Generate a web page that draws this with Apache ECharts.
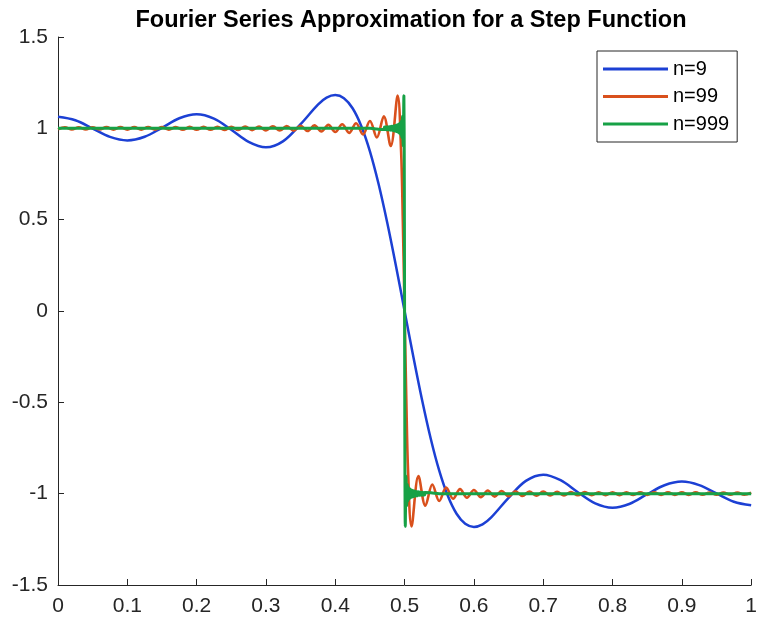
<!DOCTYPE html>
<html>
<head>
<meta charset="utf-8">
<script src="https://cdn.jsdelivr.net/npm/echarts@6/dist/echarts.min.js"></script>
<style>
  html, body { margin: 0; padding: 0; background: #fff; }
  #chart { width: 760px; height: 621px; }
</style>
</head>
<body>
<div id="chart"></div>
<script>
// ---- Data ----
const titleText = 'Fourier Series Approximation for a Step Function';
const seriesNames = ['n=9', 'n=99', 'n=999'];

const xTicks = [0, 0.1, 0.2, 0.3, 0.4, 0.5, 0.6, 0.7, 0.8, 0.9, 1];
const yTicks = [-1.5, -1, -0.5, 0, 0.5, 1, 1.5];

// n = 9
const n9X = [0, 0.025, 0.05, 0.075, 0.1, 0.125, 0.15, 0.175, 0.2, 0.225, 0.25, 0.275, 0.3, 0.325, 0.35, 0.375, 0.3875, 0.4, 0.4125, 0.425, 0.4375, 0.45, 0.4625, 0.475, 0.4875,
  0.5,
  0.5125, 0.525, 0.5375, 0.55, 0.5625, 0.575, 0.5875, 0.6, 0.6125, 0.625, 0.65, 0.675, 0.7, 0.725, 0.75, 0.775, 0.8, 0.825, 0.85, 0.875, 0.9, 0.925, 0.95, 0.975, 1];
const n9Y = [1.063, 1.044, 0.999, 0.953, 0.934, 0.954, 1.003, 1.055, 1.077, 1.053, 0.992, 0.926, 0.896, 0.930, 1.023, 1.130, 1.168, 1.182, 1.165, 1.110, 1.013, 0.874, 0.695, 0.483, 0.248,
  0,
  -0.248, -0.483, -0.695, -0.874, -1.013, -1.110, -1.165, -1.182, -1.168, -1.130, -1.023, -0.930, -0.896, -0.926, -0.992, -1.053, -1.077, -1.055, -1.003, -0.954, -0.934, -0.953, -0.999, -1.044, -1.063];

// n = 99
const n99X = [0, 0.01, 0.02, 0.03, 0.04, 0.05, 0.06, 0.07, 0.08, 0.09, 0.1, 0.11, 0.12, 0.13, 0.14, 0.15, 0.16, 0.17, 0.18, 0.19, 0.2, 0.21, 0.22, 0.23, 0.24, 0.25, 0.26, 0.27, 0.28, 0.29, 0.3, 0.31, 0.32, 0.33, 0.34, 0.35, 0.36, 0.37, 0.38, 0.39, 0.4, 0.41, 0.42, 0.43, 0.44, 0.45, 0.46, 0.47, 0.48, 0.49, 0.495, 0.4975,
  0.5,
  0.5025, 0.505, 0.51, 0.52, 0.53, 0.54, 0.55, 0.56, 0.57, 0.58, 0.59, 0.6, 0.61, 0.62, 0.63, 0.64, 0.65, 0.66, 0.67, 0.68, 0.69, 0.7, 0.71, 0.72, 0.73, 0.74, 0.75, 0.76, 0.77, 0.78, 0.79, 0.8, 0.81, 0.82, 0.83, 0.84, 0.85, 0.86, 0.87, 0.88, 0.89, 0.9, 0.91, 0.92, 0.93, 0.94, 0.95, 0.96, 0.97, 0.98, 0.99, 1];
const n99Y = [0.994, 1.006, 0.994, 1.006, 0.994, 1.006, 0.994, 1.007, 0.993, 1.007, 0.993, 1.007, 0.993, 1.007, 0.993, 1.007, 0.993, 1.007, 0.992, 1.008, 0.992, 1.008, 0.992, 1.008, 0.991, 1.009, 0.991, 1.010, 0.990, 1.010, 0.989, 1.011, 0.988, 1.013, 0.987, 1.014, 0.985, 1.016, 0.983, 1.019, 0.980, 1.022, 0.975, 1.028, 0.966, 1.040, 0.950, 1.066, 0.903, 1.179, 0.873, 0.486,
  0,
  -0.486, -0.873, -1.179, -0.903, -1.066, -0.950, -1.040, -0.966, -1.028, -0.975, -1.022, -0.980, -1.019, -0.983, -1.016, -0.985, -1.014, -0.987, -1.013, -0.988, -1.011, -0.989, -1.010, -0.990, -1.010, -0.991, -1.009, -0.991, -1.008, -0.992, -1.008, -0.992, -1.008, -0.992, -1.007, -0.993, -1.007, -0.993, -1.007, -0.993, -1.007, -0.993, -1.007, -0.993, -1.006, -0.994, -1.006, -0.994, -1.006, -0.994, -1.006, -0.994];

// n = 999
const n999X = [0, 0.1, 0.2, 0.3, 0.4, 0.45, 0.46, 0.47, 0.471, 0.472, 0.473, 0.474, 0.475, 0.476, 0.477, 0.478, 0.479, 0.48, 0.481, 0.482, 0.483, 0.484, 0.485, 0.486, 0.487, 0.488, 0.489, 0.49, 0.491, 0.492, 0.493, 0.494, 0.495, 0.496, 0.497, 0.498, 0.499, 0.4995, 0.49975,
  0.5,
  0.50025, 0.5005, 0.501, 0.502, 0.503, 0.504, 0.505, 0.506, 0.507, 0.508, 0.509, 0.51, 0.511, 0.512, 0.513, 0.514, 0.515, 0.516, 0.517, 0.518, 0.519, 0.52, 0.521, 0.522, 0.523, 0.524, 0.525, 0.526, 0.527, 0.528, 0.529, 0.53, 0.54, 0.55, 0.6, 0.7, 0.8, 0.9, 1];
const n999Y = [1.000, 1.000, 1.000, 1.000, 1.000, 1.000, 0.996, 0.993, 1.007, 0.993, 1.008, 0.992, 1.008, 0.992, 1.009, 0.991, 1.010, 0.990, 1.011, 0.989, 1.012, 0.987, 1.014, 0.986, 1.016, 0.983, 1.018, 0.980, 1.022, 0.975, 1.028, 0.966, 1.040, 0.950, 1.066, 0.903, 1.179, 0.873, 0.486,
  0,
  -0.486, -0.873, -1.179, -0.903, -1.066, -0.950, -1.040, -0.966, -1.028, -0.975, -1.022, -0.980, -1.018, -0.983, -1.016, -0.986, -1.014, -0.987, -1.012, -0.989, -1.011, -0.990, -1.010, -0.991, -1.009, -0.992, -1.008, -0.992, -1.008, -0.993, -1.007, -0.993, -0.996, -1.000, -1.000, -1.000, -1.000, -1.000, -1.000];

const colors = ['#1c40d4', '#d9501c', '#17a146'];
const widths = [2.5, 2.6, 3];

// ---- Chart ----
const FONT = '"Liberation Sans", Arial, Helvetica, sans-serif';
const AX = '#262626';

function pairs(xs, ys) { return xs.map((x, i) => [x, ys[i]]); }

const chart = echarts.init(document.getElementById('chart'), null, { renderer: 'canvas' });

const yStep = yTicks[1] - yTicks[0];
const xStep = xTicks[1] - xTicks[0];

const option = {
  animation: false,
  backgroundColor: '#ffffff',
  title: {
    text: titleText,
    left: 406,
    top: 4,
    textAlign: 'center',
    textStyle: { fontFamily: FONT, fontWeight: 'bold', fontSize: 23.5, color: '#000' }
  },
  legend: {
    data: seriesNames.map((n, i) => ({ name: n, icon: 'rect' })),
    orient: 'vertical',
    left: 597,
    top: 51,
    padding: [8, 8, 8, 6],
    itemGap: 7.5,
    itemWidth: 65,
    itemHeight: 3,
    borderColor: '#262626',
    borderWidth: 1,
    backgroundColor: '#fff',
    textStyle: { fontFamily: FONT, fontSize: 20, color: '#000', lineHeight: 20 }
  },
  grid: { left: 58, right: 5, top: 37, bottom: 36, containLabel: false },
  xAxis: {
    type: 'value',
    min: xTicks[0],
    max: xTicks[xTicks.length - 1],
    interval: xStep,
    axisLine: { show: true, onZero: false, lineStyle: { color: AX, width: 1 } },
    axisTick: { show: true, inside: true, length: 6, lineStyle: { color: AX } },
    splitLine: { show: false },
    axisLabel: {
      margin: 11,
      fontFamily: FONT, fontSize: 21, color: AX,
      formatter: v => { const t = xTicks.find(a => Math.abs(a - v) < 1e-9); return t === undefined ? '' : String(t); }
    }
  },
  yAxis: {
    type: 'value',
    min: yTicks[0],
    max: yTicks[yTicks.length - 1],
    interval: yStep,
    axisLine: { show: true, onZero: false, lineStyle: { color: AX, width: 1 } },
    axisTick: { show: true, inside: true, length: 6, lineStyle: { color: AX } },
    splitLine: { show: false },
    axisLabel: {
      margin: 10,
      fontFamily: FONT, fontSize: 21, color: AX,
      formatter: v => { const t = yTicks.find(a => Math.abs(a - v) < 1e-9); return t === undefined ? '' : String(t); }
    }
  },
  series: [
    { name: seriesNames[0], type: 'line', data: pairs(n9X, n9Y), smooth: 0.35, symbol: 'none',
      lineStyle: { color: colors[0], width: widths[0] }, itemStyle: { color: colors[0] }, z: 2 },
    { name: seriesNames[1], type: 'line', data: pairs(n99X, n99Y), smooth: 0.35, symbol: 'none',
      lineStyle: { color: colors[1], width: widths[1] }, itemStyle: { color: colors[1] }, z: 3 },
    { name: seriesNames[2], type: 'line', data: pairs(n999X, n999Y), smooth: 0.3, symbol: 'none',
      lineStyle: { color: colors[2], width: widths[2] }, itemStyle: { color: colors[2] }, z: 4 }
  ]
};

chart.setOption(option);
</script>
</body>
</html>
